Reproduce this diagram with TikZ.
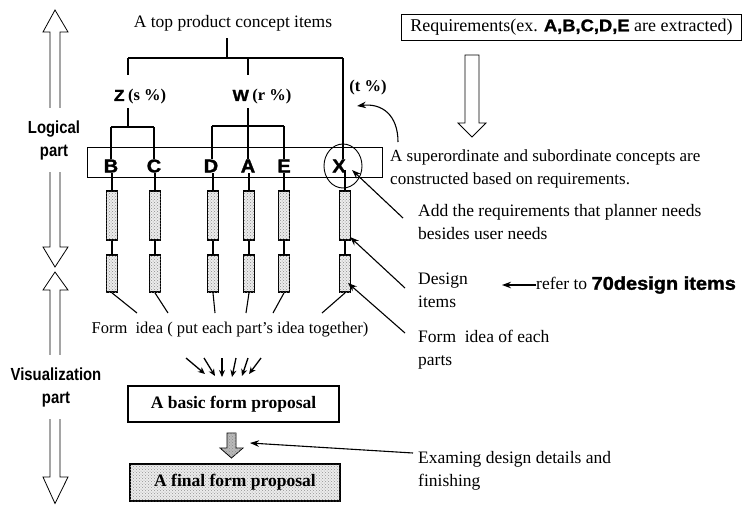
\documentclass[tikz,border=0pt]{standalone}
\usepackage{fontspec}
\setmainfont{Liberation Serif}
\newfontfamily\hv{Liberation Sans}
\newfontfamily\blk{Liberation Sans}[FakeBold=1.5,FakeStretch=1.08]
\usetikzlibrary{arrows.meta,patterns,shapes.geometric}
\tikzset{
  x=1pt,y=-1pt,
  txt/.style={font=\fontsize{17}{23}\selectfont, inner sep=0pt},
  ann/.style={font=\fontsize{17.5}{23}\selectfont, align=left, anchor=north west, inner sep=0pt},
  letter/.style={font=\blk\bfseries\fontsize{18.5}{20}\selectfont, inner sep=0pt},
  side/.style={font=\hv\bfseries\fontsize{17.5}{23}\selectfont, align=center, fill=white, inner xsep=1pt, inner ysep=0pt},
  bar/.style={draw, line width=1.8pt, minimum width=11pt, fill=gray!15,
    postaction={pattern=crosshatch dots, pattern color=gray!90}, inner sep=0pt},
  ln/.style={line width=1.1pt},
  arr/.style={line width=1.1pt, -{Stealth[length=9pt,width=6.5pt]}},
  sarr/.style={line width=1.3pt, -{Stealth[length=7pt,width=6pt]}},
  hollow/.style={draw, line width=0.8pt, fill=white},
  frame/.style={draw, line width=0.8pt, inner sep=0pt},
}
\begin{document}
\begin{tikzpicture}
\useasboundingbox (0,0) rectangle (744,504);

% left hollow double arrows
\draw[hollow] (50,32) -- (43,32) -- (55,10) -- (68,32) -- (60,32) -- (60,247) -- (68,247)
  -- (55,267) -- (43,247) -- (50,247) -- cycle;
\draw[hollow] (55,272) -- (68,290) -- (60,290) -- (60,477) -- (68,477) -- (55,503.5)
  -- (43,477) -- (50,477) -- (50,290) -- (43,290) -- cycle;
\node[side, minimum height=64] (logical) at (54,140) {\scalebox{0.85}[1]{Logical}\\\scalebox{0.85}[1]{part}};
\node[side, minimum height=64] (visual) at (56,387) {\scalebox{0.85}[1]{Visualization}\\\scalebox{0.85}[1]{part}};

% top label and tree
\node[txt, font=\fontsize{17.5}{23}\selectfont] (top) at (233,23) {A top product concept items};
\coordinate (ja) at (227,38);
\coordinate (jb) at (227,58);
\coordinate (jl) at (128,58);
\coordinate (jm) at (248,58);
\coordinate (jr) at (343,58);
\coordinate (zt) at (128,75);
\coordinate (wt) at (248,75);
\draw[ln] (ja) -- (jb);
\draw[ln] (jl) -- (jr);
\draw[ln] (jl) -- (zt);
\draw[ln] (jm) -- (wt);

\node[inner sep=0pt] (Z) at (140,97) {{\blk\bfseries\fontsize{16}{18}\selectfont Z}\hspace{3.5pt}{\bfseries\fontsize{16.5}{18}\selectfont (s \%)}};
\node[inner sep=0pt] (W) at (262,97) {{\blk\bfseries\fontsize{16}{18}\selectfont W}\hspace{3.5pt}{\bfseries\fontsize{16.5}{18}\selectfont (r \%)}};
\node[inner sep=0pt, font=\bfseries\fontsize{16.5}{18}\selectfont] (t) at (368,88) {(t \%)};

% row box and letters
\node[frame, minimum width=295, minimum height=30] (row) at (234.5,162) {};
\node[letter] (B) at (111,166) {B};
\node[letter] (C) at (154,166) {C};
\node[letter] (D) at (211,166) {D};
\node[letter] (A) at (248,166) {A};
\node[letter] (E) at (284,166) {E};
\node[letter] (X) at (339,166) {X};
\node[draw, ellipse, line width=0.9pt, minimum width=38, minimum height=44, inner sep=0pt] (Xc) at (343,166) {};

% Z / W branches
\coordinate (zb) at (128,108);
\coordinate (zh) at (128,127);
\coordinate (zl) at (111,127);
\coordinate (zr) at (154,127);
\draw[ln] (zb) -- (zh);
\draw[ln] (zl) -- (zr);
\draw[ln] (zl) -- (B.north);
\draw[ln] (zr) -- (C.north);
\coordinate (wb) at (248,108);
\coordinate (wl) at (212,126);
\coordinate (wr) at (284,126);
\draw[ln] (wb) -- (A.north);
\draw[ln] (wl) -- (wr);
\draw[ln] (wl) -- (wl |- D.north);
\draw[ln] (wr) -- (E.north);
\draw[ln] (jr) -- (jr |- X.north);

% bars
\foreach \n/\x in {B/112,C/155,D/213,A/249,E/284,X/345}{
  \node[bar, minimum height=49] (\n1) at (\x,215.5) {};
  \node[bar, minimum height=37] (\n2) at (\x,273.5) {};
  \draw[ln] (\n1.south) -- (\n2.north);
}
\foreach \n in {B,C,D,A,E}{ \draw[ln] (\n1.north) -- (\n1.north |- \n.south); }
\coordinate (xu) at (345,170);
\draw[ln] (X1.north) -- (xu);

% form idea
\node[txt, font=\fontsize{16.5}{20}\selectfont] (form) at (230,330) {Form~ idea ( put each part's idea together)};
\coordinate (fB) at (137,313);
\coordinate (fC) at (168,313);
\coordinate (fD) at (215,313);
\coordinate (fA) at (246,313);
\coordinate (fE) at (273,313);
\coordinate (fX) at (322,313);
\foreach \n in {B,C,D,A,E,X}{ \draw[ln] (\n2.south) -- (f\n); }

% converging arrows
\node[frame, line width=1.5pt, minimum width=211, minimum height=36, font=\bfseries\fontsize{17.5}{20}\selectfont] (basic) at (233.5,404) {A basic form proposal};
\coordinate (s1) at (186,358); \coordinate (e1) at (205,374);
\coordinate (s2) at (204,358); \coordinate (e2) at (215,376);
\coordinate (s3) at (222,358); \coordinate (e3) at (222,377);
\coordinate (s4) at (236,358); \coordinate (e4) at (232,377);
\coordinate (s5) at (248,358); \coordinate (e5) at (242,376);
\coordinate (s6) at (261,358); \coordinate (e6) at (249,374);
\foreach \i in {1,...,6}{ \draw[sarr] (s\i) -- (e\i); }

% gray arrow
\draw[line width=0.8pt, fill=gray!55, postaction={pattern=crosshatch dots, pattern color=gray!90}]
  (227,433) -- (236,433) -- (236,448) -- (243,448) -- (231.5,458) -- (220,448) -- (227,448) -- cycle;
\coordinate (ga) at (250,443);

% final box
\node[frame, line width=1.8pt, minimum width=210, minimum height=37, fill=gray!15,
  postaction={pattern=crosshatch dots, pattern color=gray!85}, font=\bfseries\fontsize{17.5}{20}\selectfont] (final) at (235,482.5) {A final form proposal};

% requirements
\node[frame, minimum width=340, minimum height=26, font=\fontsize{18}{20}\selectfont] (req) at (571.5,27)
  {Requirements(ex. {\blk\bfseries\fontsize{17}{20}\selectfont A,B,C,D,E} are extracted)};
\draw[hollow] (465,55) -- (479,55) -- (479,123) -- (486,123) -- (472,137) -- (458,123) -- (465,123) -- cycle;

% annotations
\node[ann, font=\fontsize{17}{23}\selectfont] (sup) at (390,149.5) {A superordinate and subordinate concepts are\\constructed based on requirements.};
\coordinate (cs) at (398,142);
\coordinate (ct) at (357,106);
\draw[arr] (cs) .. controls (398,115) and (382,103) .. (ct);

\node[ann] (add) at (418,204.5) {Add the requirements that planner needs\\besides user needs};
\coordinate (a1) at (403,218);
\coordinate (a1t) at (352,170);
\draw[arr] (a1) -- (a1t);

\node[ann] (des) at (418,272.5) {Design\\items};
\coordinate (a2) at (405,288);
\coordinate (a2t) at (350,237);
\draw[arr] (a2) -- (a2t);

\node[ann] (fie) at (418,329.5) {Form~ idea of each\\parts};
\coordinate (a3) at (405,333);
\coordinate (a3t) at (348,283);
\draw[arr] (a3) -- (a3t);

\node[ann] (exa) at (418,451.5) {Examing design details and\\finishing};
\coordinate (a4) at (413,453);
\draw[arr] (a4) -- (ga);

\node[txt, anchor=west, font=\fontsize{17.5}{20}\selectfont] (refer) at (536,285) {refer to {\blk\bfseries\fontsize{18.5}{20}\selectfont 70design items}};
\coordinate (rt) at (502,285);
\draw[arr] (refer.west) -- (rt);
\end{tikzpicture}
\end{document}
